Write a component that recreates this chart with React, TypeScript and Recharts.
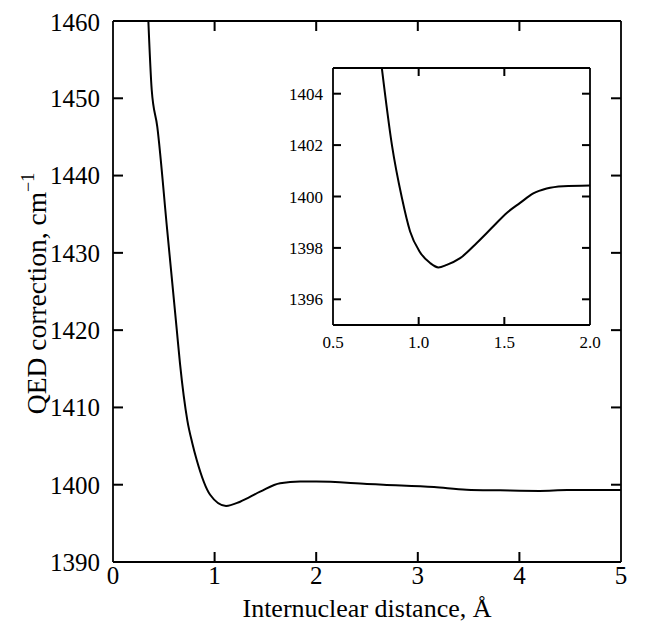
import React from "react";
import { ComposedChart, Line, Scatter, XAxis, YAxis, ReferenceLine } from "recharts";

// main curve
const distance = [0.348, 0.381, 0.436, 0.533, 0.628, 0.66, 0.732, 0.78, 0.824, 0.956, 1.113, 1.251, 1.448, 1.645, 1.842, 2.0, 2.5, 2.66, 3.16, 3.48, 3.81, 4.2, 4.47, 5.0];
const qed = [1460, 1451.1, 1446.3, 1433, 1420, 1415.6, 1408.3, 1405.4, 1403.2, 1398.7, 1397.25, 1397.8, 1399.1, 1400.2, 1400.4, 1400.4, 1400.1, 1400.0, 1399.7, 1399.35, 1399.27, 1399.2, 1399.3, 1399.3];

// inset, zoomed region
const insetDistance = [0.785, 0.844, 0.902, 0.95, 1.005, 1.067, 1.115, 1.164, 1.242, 1.339, 1.436, 1.514, 1.592, 1.669, 1.747, 1.844, 2.0];
const insetQed = [1405, 1402, 1399.95, 1398.64, 1397.86, 1397.41, 1397.24, 1397.34, 1397.6, 1398.19, 1398.84, 1399.36, 1399.75, 1400.12, 1400.31, 1400.4, 1400.43];

const xTicks = [0, 1, 2, 3, 4, 5];
const yTicks = [1390, 1400, 1410, 1420, 1430, 1440, 1450, 1460];
const insetXTicks = [0.5, 1.0, 1.5, 2.0];
const insetYTicks = [1396, 1398, 1400, 1402, 1404];

const FONT = "'Liberation Serif', 'DejaVu Serif', serif";
const AXIS = { stroke: "#000", strokeWidth: 1.8 };

const mainData = distance.map((d, i) => ({ d, v: qed[i] }));
const insetData = insetDistance.map((d, i) => ({ d, v: insetQed[i] }));

// tick mark anchors on the four sides of a frame
const sidePoints = (xs: number[], ys: number[], xd: number[], yd: number[]) => ({
  bottom: xs.map((t) => ({ d: t, v: yd[0] })),
  top: xs.map((t) => ({ d: t, v: yd[1] })),
  left: ys.map((t) => ({ d: xd[0], v: t })),
  right: ys.map((t) => ({ d: xd[1], v: t })),
});

const mainSides = sidePoints(xTicks.slice(1, -1), yTicks.slice(1, -1), [0, 5], [1390, 1460]);
const insetSides = sidePoints(insetXTicks.slice(1, -1), insetYTicks, [0.5, 2], [1395, 1405]);

// inward tick marks as small filled bars, placed by the scatter's own scales
const tickShape = (side: string, len: number) => (p: any) => {
  const { cx, cy } = p;
  if (side === "bottom") return <rect x={cx - 1} y={cy - len} width={2} height={len} fill="#000" />;
  if (side === "top") return <rect x={cx - 1} y={cy} width={2} height={len} fill="#000" />;
  if (side === "left") return <rect x={cx} y={cy - 1} width={len} height={2} fill="#000" />;
  return <rect x={cx - len} y={cy - 1} width={len} height={2} fill="#000" />;
};

const XTitle = (props: any) => {
  const { viewBox } = props;
  return (
    <text x={viewBox.x + viewBox.width / 2} y={viewBox.y + 55} textAnchor="middle" fontSize={26} fontFamily={FONT} fill="#000">
      Internuclear distance, Å
    </text>
  );
};

const YTitle = (props: any) => {
  const { viewBox } = props;
  const cx = viewBox.x + 38;
  const cy = viewBox.y + viewBox.height / 2 + 2;
  return (
    <text x={cx} y={cy} transform={`rotate(-90, ${cx}, ${cy})`} textAnchor="middle" fontSize={27.5} fontFamily={FONT} fill="#000">
      QED correction, cm
      <tspan dy={-12} fontSize={18}>−1</tspan>
    </text>
  );
};

const sides = ["bottom", "top", "left", "right"];

export default function App() {
  return (
    <div style={{ position: "relative", width: 643, height: 623 }}>
      <ComposedChart width={643} height={623} data={mainData} margin={{ top: 13, right: 30, left: 0, bottom: 0 }}>
        <XAxis
          dataKey="d"
          type="number"
          domain={[0, 5]}
          ticks={xTicks}
          height={69}
          tickSize={0}
          tickMargin={4}
          axisLine={AXIS}
          tickLine={false}
          tick={{ fill: "#000", fontSize: 25, fontFamily: FONT }}
          label={<XTitle />}
        />
        <YAxis
          type="number"
          domain={[1390, 1460]}
          ticks={yTicks}
          width={105}
          tickSize={0}
          tickMargin={13}
          axisLine={AXIS}
          tickLine={false}
          tick={{ fill: "#000", fontSize: 25, fontFamily: FONT }}
          label={<YTitle />}
        />
        {/* closing frame, top and right */}
        <ReferenceLine y={1460} {...AXIS} />
        <ReferenceLine x={5} {...AXIS} />
        {sides.map((s) => (
          <Scatter key={s} data={(mainSides as any)[s]} dataKey="v" shape={tickShape(s, 10)} isAnimationActive={false} />
        ))}
        <Line type="monotone" dataKey="v" stroke="#000" strokeWidth={2} dot={false} isAnimationActive={false} />
      </ComposedChart>

      <div style={{ position: "absolute", left: 265, top: 58 }}>
        <ComposedChart width={336} height={299} data={insetData} margin={{ top: 2, right: 19, left: 0, bottom: 0 }}>
          <XAxis
            dataKey="d"
            type="number"
            domain={[0.5, 2]}
            ticks={insetXTicks}
            height={40}
            tickSize={0}
            tickMargin={11}
            axisLine={AXIS}
            tickLine={false}
            tickFormatter={(t: number) => t.toFixed(1)}
            tick={{ fill: "#000", fontSize: 17, fontFamily: FONT }}
          />
          <YAxis
            type="number"
            domain={[1395, 1405]}
            ticks={insetYTicks}
            width={60}
            tickSize={0}
            tickMargin={10}
            axisLine={AXIS}
            tickLine={false}
            tick={{ fill: "#000", fontSize: 17, fontFamily: FONT }}
          />
          <ReferenceLine y={1405} {...AXIS} />
          <ReferenceLine x={2} {...AXIS} />
          {sides.map((s) => (
            <Scatter key={s} data={(insetSides as any)[s]} dataKey="v" shape={tickShape(s, 8)} isAnimationActive={false} />
          ))}
          <Line type="monotone" dataKey="v" stroke="#000" strokeWidth={2} dot={false} isAnimationActive={false} />
        </ComposedChart>
      </div>
    </div>
  );
}
